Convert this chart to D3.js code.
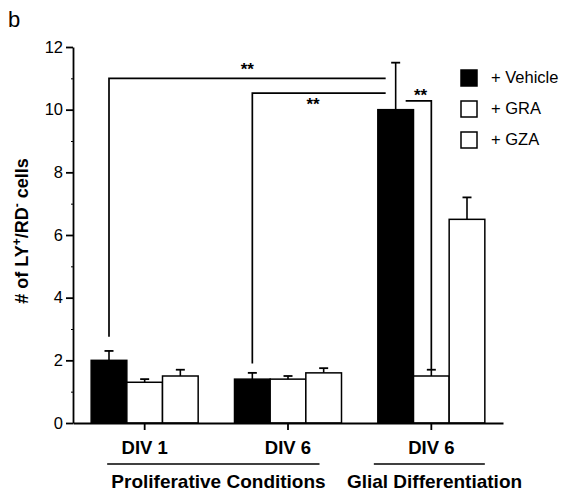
<!DOCTYPE html>
<html>
<head>
<meta charset="utf-8">
<script src="https://cdn.jsdelivr.net/npm/d3@7"></script>
<style>
  body { margin: 0; background: #fff; }
  svg { display: block; font-family: "Liberation Sans", Arial, Helvetica, sans-serif; }
</style>
</head>
<body>
<svg width="567" height="498"></svg>
<script>
var svg = d3.select('svg');

// data
var groups = ['DIV 1 (prolif)', 'DIV 6 (prolif)', 'DIV 6 (glial)'];
var groupLabels = ['DIV 1', 'DIV 6', 'DIV 6'];
var series = ['+ Vehicle', '+ GRA', '+ GZA'];
var seriesFill = ['#000', '#fff', '#fff'];
var means = [
  [2.0, 1.3, 1.5],
  [1.4, 1.4, 1.6],
  [10.0, 1.5, 6.5]
];
var errors = [
  [0.3, 0.1, 0.2],
  [0.2, 0.1, 0.15],
  [1.5, 0.2, 0.7]
];
var yTicks = [0, 2, 4, 6, 8, 10, 12];
var yMinorTicks = [1, 3, 5, 7, 9, 11];

// significance brackets: start bar [group, series], end bar, line level, foot level
var brackets = [
  {from: [0, 0], to: [2, 0], level: 11.0, foot: 2.75, label: '**'},
  {from: [1, 0], to: [2, 0], level: 10.53, foot: 1.9, label: '**'},
  {from: [2, 0], to: [2, 1], level: 10.28, foot: 1.72, label: '**'}
];

var conditions = [
  {name: 'Proliferative Conditions', first: 0, last: 1},
  {name: 'Glial Differentiation', first: 2, last: 2}
];

var plot = {l: 73, r: 503, t: 47, b: 423};

var y = d3.scaleLinear().domain([0, 12]).range([plot.b, plot.t]);
var x0 = d3.scaleBand().domain(groups).range([plot.l, plot.r]).padding(0);
var groupWidth = 107;
var x1 = d3.scaleBand().domain(series).range([0, groupWidth]).padding(0);

function barLeft(g, s) {
  return x0(groups[g]) + x0.bandwidth() / 2 - groupWidth / 2 + x1(series[s]);
}
function barCenter(g, s) {
  return barLeft(g, s) + x1.bandwidth() / 2;
}

// panel letter
svg.append('text').attr('x', 8).attr('y', 27).attr('font-size', 22).text('b');

var bars = [];
means.forEach(function(row, g) {
  row.forEach(function(v, s) {
    bars.push({g: g, s: s, v: v, e: errors[g][s]});
  });
});

var barG = svg.append('g');

// error bars (upward only)
barG.selectAll('line.err')
  .data(bars)
  .enter()
  .append('line')
  .attr('class', 'err')
  .attr('x1', function(d) { return barCenter(d.g, d.s); })
  .attr('x2', function(d) { return barCenter(d.g, d.s); })
  .attr('y1', function(d) { return y(d.v); })
  .attr('y2', function(d) { return y(d.v + d.e); })
  .attr('stroke', '#000')
  .attr('stroke-width', 1.6);

barG.selectAll('line.cap')
  .data(bars)
  .enter()
  .append('line')
  .attr('class', 'cap')
  .attr('x1', function(d) { return barCenter(d.g, d.s) - 4.5; })
  .attr('x2', function(d) { return barCenter(d.g, d.s) + 4.5; })
  .attr('y1', function(d) { return y(d.v + d.e); })
  .attr('y2', function(d) { return y(d.v + d.e); })
  .attr('stroke', '#000')
  .attr('stroke-width', 1.8);

barG.selectAll('rect')
  .data(bars)
  .enter()
  .append('rect')
  .attr('x', function(d) { return barLeft(d.g, d.s); })
  .attr('y', function(d) { return y(d.v); })
  .attr('width', x1.bandwidth())
  .attr('height', function(d) { return y(0) - y(d.v); })
  .attr('fill', function(d) { return seriesFill[d.s]; })
  .attr('stroke', '#000')
  .attr('stroke-width', 1.5);

// brackets
var brG = svg.append('g').attr('fill', 'none').attr('stroke', '#000').attr('stroke-width', 1.7);
brackets.forEach(function(b, i) {
  var xa, xb, path;
  if (i < 2) {
    xa = barCenter(b.from[0], b.from[1]);
    xb = barCenter(b.to[0], b.to[1]) - 10;
    path = 'M' + xa + ',' + y(b.foot) + 'V' + y(b.level) + 'H' + xb;
  } else {
    xa = barCenter(b.from[0], b.from[1]) + 10;
    xb = barCenter(b.to[0], b.to[1]);
    path = 'M' + xa + ',' + y(b.level) + 'H' + xb + 'V' + y(b.foot);
  }
  brG.append('path').attr('d', path);
  var lx = (xa + xb) / 2;
  var ly = i === 1 ? y(b.level) + 17 : y(b.level) + (i === 0 ? -3 : 0);
  svg.append('text')
    .attr('x', i === 2 ? lx + 2 : lx + (i === 1 ? -6 : 0))
    .attr('y', ly)
    .attr('text-anchor', 'middle')
    .attr('font-size', 17)
    .attr('font-weight', 'bold')
    .text(b.label);
});

// axes
var yAxis = svg.append('g')
  .attr('transform', 'translate(' + plot.l + ',0)')
  .call(d3.axisLeft(y).tickValues(yTicks).tickSize(7).tickSizeOuter(0).tickPadding(3));
yAxis.selectAll('text').attr('font-size', 16.5).attr('font-family', 'Liberation Sans, Arial, sans-serif');
yAxis.selectAll('line, path').attr('stroke-width', 1.8);

svg.append('g')
  .attr('transform', 'translate(' + plot.l + ',0)')
  .call(d3.axisLeft(y).tickValues(yMinorTicks).tickSize(2).tickSizeOuter(0).tickFormat(''))
  .call(function(g) { g.select('.domain').remove(); });

var xAxis = svg.append('g')
  .attr('transform', 'translate(0,' + plot.b + ')')
  .call(d3.axisBottom(x0).tickSize(7).tickSizeOuter(0).tickFormat(''));
xAxis.selectAll('line, path').attr('stroke-width', 1.8);

// group labels
svg.selectAll('text.grp')
  .data(groupLabels)
  .enter()
  .append('text')
  .attr('class', 'grp')
  .attr('x', function(d, i) { return x0(groups[i]) + x0.bandwidth() / 2; })
  .attr('y', 454)
  .attr('text-anchor', 'middle')
  .attr('font-size', 18.5)
  .attr('font-weight', 'bold')
  .text(function(d) { return d; });

// condition underlines and captions
conditions.forEach(function(c) {
  var xa = barLeft(c.first, 0) + (c.first === c.last ? -4 : 16);
  var xb = barLeft(c.last, 2) + x1.bandwidth() - (c.first === c.last ? 0 : 22);
  svg.append('line')
    .attr('x1', xa).attr('x2', xb)
    .attr('y1', 464).attr('y2', 464)
    .attr('stroke', '#000').attr('stroke-width', 1.7);
  svg.append('text')
    .attr('x', c.first === c.last ? 434.5 : 218.5)
    .attr('y', 488)
    .attr('text-anchor', 'middle')
    .attr('font-size', 19)
    .attr('font-weight', 'bold')
    .text(c.name);
});

// y label
var yl = svg.append('text')
  .attr('transform', 'translate(28,231) rotate(-90)')
  .attr('text-anchor', 'middle')
  .attr('font-size', 18)
  .attr('font-weight', 'bold');
yl.append('tspan').text('# of LY');
yl.append('tspan').attr('dy', -7).attr('font-size', 12).text('+');
yl.append('tspan').attr('dy', 7).text('/RD');
yl.append('tspan').attr('dy', -7).attr('font-size', 12).text('-');
yl.append('tspan').attr('dy', 7).text(' cells');

// legend
var legend = svg.selectAll('g.legend')
  .data(series)
  .enter()
  .append('g')
  .attr('class', 'legend')
  .attr('transform', function(d, i) { return 'translate(461,' + (70 + i * 31) + ')'; });
legend.append('rect')
  .attr('width', 16).attr('height', 16)
  .attr('fill', function(d, i) { return seriesFill[i]; })
  .attr('stroke', '#000').attr('stroke-width', 1.5);
legend.append('text')
  .attr('x', 30).attr('y', 13)
  .attr('font-size', 16.5)
  .text(function(d) { return d; });
</script>
</body>
</html>
